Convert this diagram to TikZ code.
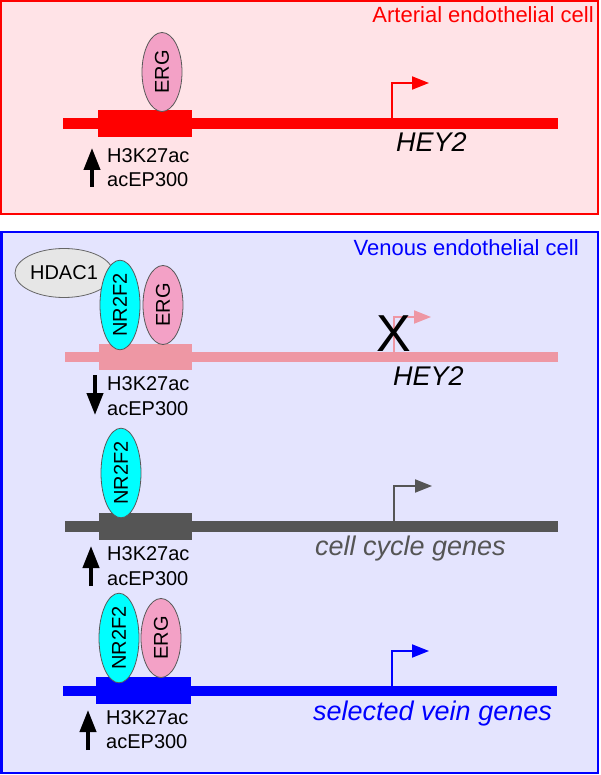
\documentclass[tikz,border=0pt]{standalone}
\usepackage{fontspec}
\setmainfont{Liberation Sans}
\usepackage{xcolor}
\usetikzlibrary{shapes.geometric,arrows.meta}

\definecolor{artfill}{HTML}{FFE3E7}
\definecolor{venfill}{HTML}{E4E4FE}
\definecolor{hdacgray}{HTML}{E6E6E6}
\definecolor{ergpink}{HTML}{F3A1C6}
\definecolor{nrcyan}{HTML}{00FFFF}
\definecolor{offpink}{HTML}{EE97A4}
\definecolor{darkgene}{HTML}{555555}

\begin{document}
\begin{tikzpicture}[x=1pt,y=-1pt,
    lbl/.style={font=\fontsize{20}{24}\selectfont, inner sep=0pt, anchor=base west},
    genename/.style={font=\fontsize{27}{32}\selectfont\itshape, inner sep=0pt, anchor=base west},
    celltitle/.style={font=\fontsize{22}{26}\selectfont, inner sep=0pt, anchor=base east},
    factor/.style={ellipse, draw=black!65, line width=0.8pt, inner sep=0pt,
        minimum width=40pt, minimum height=79pt, font=\fontsize{20}{24}\selectfont},
    histarrow/.style={line width=4pt, -{Triangle[width=16pt,length=22pt]}},
    prom/.style={line width=2pt, -{Triangle[width=13pt,length=17pt]}}]
        \useasboundingbox (0,0) rectangle (600,775);

        % Dibuja los dos paneles
        \draw[red, line width=2pt, fill=artfill] (1,1) rectangle (598,214);
        \draw[blue, line width=2.5pt, fill=venfill] (1.5,232) rectangle (598,773);
        \node[celltitle, text=red] (artT) at (594,23) {Arterial endothelial cell};
        \node[celltitle, text=blue] (venT) at (579,256) {Venous endothelial cell};

        % Arteria: HEY2
        \draw[red, line width=11pt] (63,123.5) -- (558,123.5);
        \fill[red] (98,110) rectangle (192,137);
        \node[factor, fill=ergpink] (ergA) at (162,72) {\rotatebox{90}{ERG}};
        \coordinate (tssA) at (392,118);
        \coordinate (tipA) at (429,83);
        \draw[prom, red] (tssA) |- (tipA);
        \node[genename] (heyA) at (396,152) {HEY2};
        \coordinate (upA0) at (92,187);
        \coordinate (upA1) at (92,148);
        \draw[histarrow] (upA0) -- (upA1);
        \node[lbl] (h3A) at (107,163) {H3K27ac};
        \node[lbl] (epA) at (107,187) {acEP300};

        % Vena: HEY2 reprimido
        \draw[offpink, line width=10pt] (65,357) -- (558,357);
        \fill[offpink] (99,344) rectangle (192,370);
        \node[ellipse, draw=black!60, line width=0.8pt, fill=hdacgray, inner sep=0pt,
            minimum width=98pt, minimum height=49pt, font=\fontsize{20}{24}\selectfont]
            (hdacB) at (64,273) {HDAC1};
        \node[factor, fill=nrcyan] (nrB) at (120,305) {\rotatebox{90}{NR2F2}};
        \node[factor, fill=ergpink] (ergB) at (163,305) {\rotatebox{90}{ERG}};
        \coordinate (tssB) at (394,352);
        \coordinate (tipB) at (431,317);
        \draw[prom, offpink] (tssB) |- (tipB);
        \node[inner sep=0pt, font=\fontsize{52}{60}\selectfont] (xB) at (394,334) {X};
        \node[genename] (heyB) at (393,385) {HEY2};
        \coordinate (dnB0) at (95,375);
        \coordinate (dnB1) at (95,415);
        \draw[histarrow] (dnB0) -- (dnB1);
        \node[lbl] (h3B) at (107,390) {H3K27ac};
        \node[lbl] (epB) at (107,415) {acEP300};

        % Vena: genes del ciclo celular
        \draw[darkgene, line width=11pt] (65,526.5) -- (558,526.5);
        \fill[darkgene] (99,513) rectangle (192,540);
        \node[factor, fill=nrcyan] (nrC) at (121,473) {\rotatebox{90}{NR2F2}};
        \coordinate (tssC) at (394,521);
        \coordinate (tipC) at (432,486);
        \draw[prom, darkgene] (tssC) |- (tipC);
        \node[genename, text=darkgene] (cycC) at (315,555) {cell cycle genes};
        \coordinate (upC0) at (91,586);
        \coordinate (upC1) at (91,546);
        \draw[histarrow] (upC0) -- (upC1);
        \node[lbl] (h3C) at (107,560) {H3K27ac};
        \node[lbl] (epC) at (107,585) {acEP300};

        % Vena: genes venosos
        \draw[blue, line width=10pt] (63,691) -- (557,691);
        \fill[blue] (96,677) rectangle (191,704);
        \node[factor, fill=nrcyan] (nrD) at (119,638) {\rotatebox{90}{NR2F2}};
        \node[factor, fill=ergpink] (ergD) at (161,638) {\rotatebox{90}{ERG}};
        \coordinate (tssD) at (391.5,686);
        \coordinate (tipD) at (429,651);
        \draw[prom, blue] (tssD) |- (tipD);
        \node[genename, text=blue] (veinD) at (313,720) {selected vein genes};
        \coordinate (upD0) at (88,750);
        \coordinate (upD1) at (88,710);
        \draw[histarrow] (upD0) -- (upD1);
        \node[lbl] (h3D) at (106,724) {H3K27ac};
        \node[lbl] (epD) at (106,748) {acEP300};
    \end{tikzpicture}
\end{document}
